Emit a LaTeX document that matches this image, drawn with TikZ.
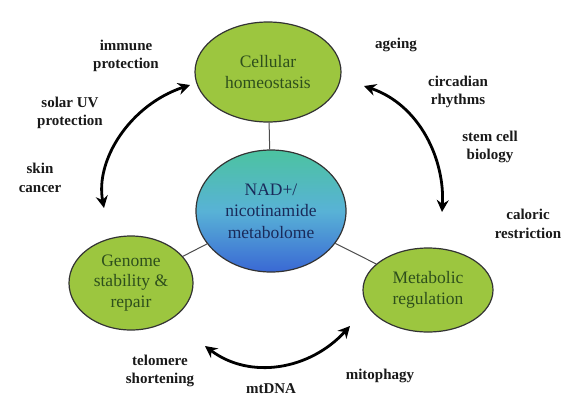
\documentclass[tikz,border=0pt]{standalone}
\usepackage{fontspec}
\setmainfont{Liberation Serif}
\usetikzlibrary{arrows.meta,shapes.geometric}
\definecolor{leaf}{HTML}{9CC63F}
\definecolor{leaftext}{HTML}{2E4F1C}
\definecolor{navytext}{HTML}{1A2A5A}
\definecolor{ntop}{HTML}{4CC3A0}
\definecolor{nmid}{HTML}{58B2D6}
\definecolor{nbot}{HTML}{3A68D4}
\begin{document}
\begin{tikzpicture}[x=1pt,y=-1pt,
  green/.style={ellipse,draw=black!80,line width=1.2pt,fill=leaf,text=leaftext,align=center,font=\fontsize{17.5}{20.5}\selectfont,inner sep=0pt},
  lbl/.style={align=center,font=\bfseries\fontsize{15}{18.5}\selectfont,text=black!90},
  link/.style={draw=black!70,line width=1pt},
  arc/.style={line width=2.8pt,{Stealth[length=12pt,width=12pt,inset=4pt]}-{Stealth[length=12pt,width=12pt,inset=4pt]}}]
\useasboundingbox (0,0) rectangle (572,405);
\node[green,minimum width=146pt,minimum height=100pt] (cell) at (268,72) {Cellular\\homeostasis};
\node[green,minimum width=124pt,minimum height=94pt] (gen) at (131,283) {Genome\\stability \&\\repair};
\node[green,minimum width=130pt,minimum height=84pt] (met) at (428,290) {Metabolic\\regulation};
\node[ellipse,draw=black!80,line width=1.2pt,top color=ntop,bottom color=nbot,middle color=nmid,minimum width=150pt,minimum height=122pt,align=center,text=navytext,font=\fontsize{17.5}{21.5}\selectfont,inner sep=0pt] (nad) at (271,211) {NAD+/\\nicotinamide\\metabolome};
\draw[link] (cell) -- (nad);
\draw[link] (nad) -- (gen);
\draw[link] (nad) -- (met);
\coordinate (l1) at (190,85);
\coordinate (l2) at (104,208);
\coordinate (r1) at (364,86);
\coordinate (r2) at (442,212);
\coordinate (b1) at (205,346);
\coordinate (b2) at (350,326);
\draw[arc] (l1) .. controls (130,105) and (95,160) .. (l2);
\draw[arc] (r1) .. controls (420,105) and (445,160) .. (r2);
\draw[arc] (b1) .. controls (250,380) and (310,370) .. (b2);
\node[lbl] (t1) at (126,56) {immune\\protection};
\node[lbl] (t2) at (70,113) {solar UV\\protection};
\node[lbl] (t3) at (40,178) {skin\\cancer};
\node[lbl] (t4) at (396,45) {ageing};
\node[lbl] (t5) at (458,92) {circadian\\rhythms};
\node[lbl] (t6) at (490,147) {stem cell\\biology};
\node[lbl] (t7) at (528,224) {caloric\\restriction};
\node[lbl] (t8) at (160,371) {telomere\\shortening};
\node[lbl] (t9) at (271,389) {mtDNA};
\node[lbl] (t10) at (380,376) {mitophagy};
\end{tikzpicture}
\end{document}
